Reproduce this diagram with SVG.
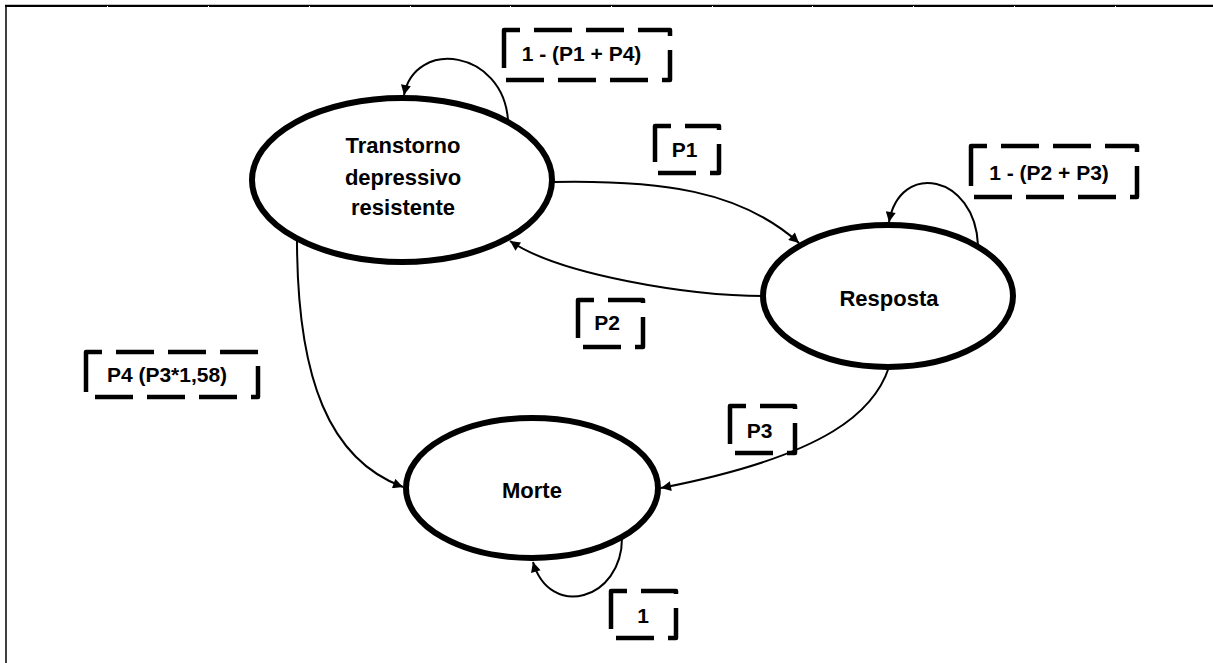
<svg xmlns="http://www.w3.org/2000/svg" width="1213" height="663" viewBox="0 0 1213 663">
<defs>
<marker id="arrow" viewBox="0 0 10 10" refX="10" refY="5" markerWidth="11" markerHeight="10" markerUnits="userSpaceOnUse" orient="auto"><path d="M0,0 L10,5 L0,10 z" fill="#000"/></marker>
</defs>
<style>
.node ellipse{fill:#fff;stroke:#000;stroke-width:6}
.node text{font-family:"Liberation Sans",Arial,sans-serif;font-weight:bold;font-size:22px;text-anchor:middle;fill:#000}
.conn path{fill:none;stroke:#000;stroke-width:2;marker-end:url(#arrow)}
.lbl path{fill:none;stroke:#000;stroke-width:4.5;stroke-dasharray:38 14;stroke-linejoin:round}
.lbl text{font-family:"Liberation Sans",Arial,sans-serif;font-weight:bold;font-size:21px;text-anchor:middle;fill:#000}
.tick{fill:#fff}
</style>
<rect width="1213" height="663" fill="#fff"/>
<g id="frame">
<line x1="5" y1="4.5" x2="1213" y2="4.5" stroke="#c0c0c0" stroke-width="1"/>
<line x1="5" y1="6" x2="1213" y2="6" stroke="#000" stroke-width="2"/>
<line x1="6" y1="5" x2="6" y2="663" stroke="#000" stroke-width="1.5"/>
<rect class="tick" x="107" y="6" width="1" height="1"/>
<rect class="tick" x="208" y="6" width="1" height="1"/>
<rect class="tick" x="309" y="6" width="1" height="1"/>
<rect class="tick" x="410" y="6" width="1" height="1"/>
<rect class="tick" x="510" y="6" width="1" height="1"/>
<rect class="tick" x="611" y="6" width="1" height="1"/>
<rect class="tick" x="712" y="6" width="1" height="1"/>
<rect class="tick" x="812" y="6" width="1" height="1"/>
<rect class="tick" x="913" y="6" width="1" height="1"/>
<rect class="tick" x="1014" y="6" width="1" height="1"/>
<rect class="tick" x="1115" y="6" width="1" height="1"/>
</g>
<g id="node-tdr" class="node">
<ellipse cx="402" cy="180" rx="150" ry="82"/>
<text x="403" y="153">Transtorno</text>
<text x="403" y="185">depressivo</text>
<text x="403" y="215">resistente</text>
</g>
<g id="node-resposta" class="node">
<ellipse cx="888" cy="296" rx="125" ry="71"/>
<text x="889" y="306">Resposta</text>
</g>
<g id="node-morte" class="node">
<ellipse cx="532" cy="488" rx="126" ry="70"/>
<text x="532" y="498">Morte</text>
</g>
<g id="connectors" class="conn">
<path d="M508,120 C503,50 415,38 404,95"/>
<path d="M553,182 C660,180 740,190 799,243"/>
<path d="M764,296 C690,296 560,275 510,241"/>
<path d="M978,245 C975,175 900,160 889,222"/>
<path d="M297,239 C297,380 330,460 403,487"/>
<path d="M889,367 C875,410 830,455 661,488"/>
<path d="M622,538 C622,600 550,620 533,562"/>
</g>
<g id="labels" class="lbl">
<g id="lbl-1-p1p4"><path d="M504,52 V30 H670 V80 H504 Z"/><text x="581.5" y="61">1 - (P1 + P4)</text></g>
<g id="lbl-p1"><path d="M655,148 V126 H719 V173 H655 Z"/><text x="684.5" y="157">P1</text></g>
<g id="lbl-1-p2p3"><path d="M971,168 V146 H1137 V197 H971 Z"/><text x="1049" y="180">1 - (P2 + P3)</text></g>
<g id="lbl-p2"><path d="M578,322 V300 H643 V347 H578 Z"/><text x="607" y="330">P2</text></g>
<g id="lbl-p4"><path d="M86,374 V352 H258 V397 H86 Z"/><text x="167" y="382">P4 (P3*1,58)</text></g>
<g id="lbl-p3"><path d="M730,428 V406 H795 V453 H730 Z"/><text x="759.5" y="438">P3</text></g>
<g id="lbl-1"><path d="M611,613 V591 H676 V638 H611 Z"/><text x="643" y="623">1</text></g>
</g>
</svg>
